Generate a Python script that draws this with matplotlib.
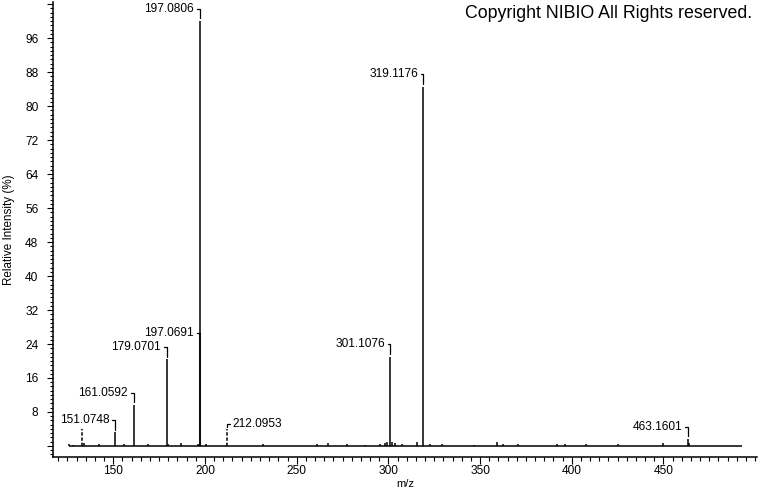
import numpy as np
import matplotlib.pyplot as plt
from matplotlib.ticker import MultipleLocator, FixedLocator, FuncFormatter

plt.rcParams['font.family'] = ['Liberation Sans', 'DejaVu Sans']

# labelled peaks (m/z, relative intensity %)
peak_mz = [151.0748, 161.0592, 179.0701, 197.0691, 197.0806, 212.0953, 301.1076, 319.1176, 463.1601]
peak_int = [3.2, 9.6, 20.4, 26.5, 100.0, 3.9, 21.0, 84.6, 1.6]
peak_lbl = ['151.0748', '161.0592', '179.0701', '197.0691', '197.0806', '212.0953', '301.1076', '319.1176', '463.1601']

# small unlabelled peaks
noise_mz = [126.0, 128.0, 133.1, 134.0, 142.2, 156.0, 169.0, 180.0, 186.7, 196.3, 200.5, 231.8,
            260.9, 267.2, 277.2, 287.2, 295.4, 298.2, 299.4, 302.1, 303.6, 307.3, 315.4,
            322.7, 329.1, 346.7, 359.4, 362.5, 370.5, 391.8, 396.3, 407.7, 425.0, 449.9, 464.2]
noise_int = [0.5, 0.3, 4.0, 0.6, 0.4, 0.4, 0.5, 0.5, 0.6, 0.5, 0.4, 0.4,
             0.4, 0.6, 0.5, 0.3, 0.4, 0.6, 1.0, 1.0, 0.6, 0.4, 1.0,
             0.5, 0.4, 0.3, 0.9, 0.4, 0.4, 0.4, 0.5, 0.5, 0.5, 0.8, 0.6]

# peaks drawn with a dashed stick
dashed_mz = [133.1, 212.0953]

scan_range = [126.0, 493.0]
x_ticks = [150, 200, 250, 300, 350, 400, 450]

fig = plt.figure(figsize=(7.6, 4.92), dpi=100)
ax = fig.add_axes([0.0697, 0.0711, 0.9263, 0.9248])

# baseline
ax.hlines(0, scan_range[0], scan_range[1], color='black', lw=1.1)

# sticks
all_mz = noise_mz + peak_mz
all_int = noise_int + peak_int
for mz, h in zip(all_mz, all_int):
    ls = (0, (2.2, 1.2)) if mz in dashed_mz else '-'
    ax.vlines(mz, 0, h, color='black', lw=1.1, linestyles=[ls])

# peak labels with bracket connectors
for mz, h, lab in zip(peak_mz, peak_int, peak_lbl):
    if lab == '212.0953':
        off, ha, rel, dy = 4, 'left', (0, 0.5), 4
    elif lab == '197.0691':
        off, ha, rel, dy = -4, 'right', (1, 0.5), 0
    else:
        off, ha, rel, dy = -4, 'right', (1, 0.5), 9
    ax.annotate(lab, xy=(mz, h), xytext=(off, dy), textcoords='offset points',
                ha=ha, va='center', fontsize=8.6,
                arrowprops=dict(arrowstyle='-', connectionstyle='angle,angleA=0,angleB=90,rad=0',
                                shrinkA=0, shrinkB=2, relpos=rel, lw=0.9, color='black'))

ax.set_xlim(117.1, 501.0)
ax.set_ylim(-2.6, 104.5)

ax.xaxis.set_major_locator(FixedLocator(x_ticks))
ax.xaxis.set_minor_locator(MultipleLocator(5))
ax.yaxis.set_major_locator(FixedLocator(np.arange(0, 105, 8)))
ax.yaxis.set_minor_locator(MultipleLocator(1))
ax.yaxis.set_major_formatter(FuncFormatter(lambda v, p: '' if v < 1 or v > 100 else f'{v:.0f}'))

ax.tick_params(axis='x', which='major', length=5, width=0.8, pad=1, labelsize=8.6)
ax.tick_params(axis='x', which='minor', length=2.8, width=0.8)
ax.tick_params(axis='y', which='major', length=4.5, width=0.8, pad=6, labelsize=8.6)
ax.tick_params(axis='y', which='minor', length=2.2, width=0.8)

for s in ['top', 'right']:
    ax.spines[s].set_visible(False)
for s in ['left', 'bottom']:
    ax.spines[s].set_linewidth(1.1)

ax.set_xlabel('m/z', fontsize=8, labelpad=1)
ax.set_ylabel('Relative Intensity (%)', fontsize=8.4, labelpad=7)

fig.text(0.99, 1 - 14 / 492, 'Copyright NIBIO All Rights reserved.', ha='right', va='center', fontsize=12.8)

fig.savefig('out.png', dpi=100)
